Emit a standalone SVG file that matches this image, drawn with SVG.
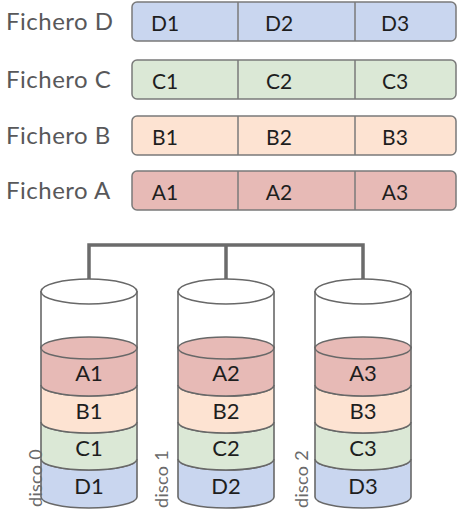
<svg xmlns="http://www.w3.org/2000/svg" width="464" height="520" viewBox="0 0 464 520">
<defs>
<style>
.lbl{font-family:Lato,"Open Sans",sans-serif;font-size:24px;fill:#58585a;letter-spacing:0.5px}
.cell{font-family:Lato,"Open Sans",sans-serif;font-size:21px;fill:#1e1e1e;text-anchor:middle}
.dtx{font-family:Lato,"Open Sans",sans-serif;font-size:22px;fill:#1e1e1e;text-anchor:middle}
.disk{font-family:Lato,"Open Sans",sans-serif;font-size:18px;fill:#6a6a6a;letter-spacing:0.3px}
.bar{stroke:#7a7a7a;stroke-width:1.5}
.div{stroke:#7a7a7a;stroke-width:1.5}
.A{fill:#e7bab6}.B{fill:#fde3d2}.C{fill:#dbe8d6}.D{fill:#c9d6ef}
.cyl{stroke:#686868;stroke-width:1.6}
.con{fill:none;stroke:#6b6b6b;stroke-width:3.5}
</style>
</defs>
<rect width="464" height="520" fill="#fff"/>

<g id="fichero-d">
<text class="lbl" x="6" y="30">Fichero D</text>
<rect class="bar D" x="132" y="2" width="324" height="39" rx="5"/>
<line class="div" x1="238" y1="2" x2="238" y2="41"/>
<line class="div" x1="355" y1="2" x2="355" y2="41"/>
<text class="cell" x="165" y="31">D1</text>
<text class="cell" x="279" y="31">D2</text>
<text class="cell" x="395" y="31">D3</text>
</g>
<g id="fichero-c">
<text class="lbl" x="6" y="88">Fichero C</text>
<rect class="bar C" x="132" y="60" width="324" height="39" rx="5"/>
<line class="div" x1="238" y1="60" x2="238" y2="99"/>
<line class="div" x1="355" y1="60" x2="355" y2="99"/>
<text class="cell" x="165" y="89">C1</text>
<text class="cell" x="279" y="89">C2</text>
<text class="cell" x="395" y="89">C3</text>
</g>
<g id="fichero-b">
<text class="lbl" x="6" y="144">Fichero B</text>
<rect class="bar B" x="132" y="116" width="324" height="39" rx="5"/>
<line class="div" x1="238" y1="116" x2="238" y2="155"/>
<line class="div" x1="355" y1="116" x2="355" y2="155"/>
<text class="cell" x="165" y="145">B1</text>
<text class="cell" x="279" y="145">B2</text>
<text class="cell" x="395" y="145">B3</text>
</g>
<g id="fichero-a">
<text class="lbl" x="6" y="199">Fichero A</text>
<rect class="bar A" x="132" y="171" width="324" height="39" rx="5"/>
<line class="div" x1="238" y1="171" x2="238" y2="210"/>
<line class="div" x1="355" y1="171" x2="355" y2="210"/>
<text class="cell" x="165" y="200">A1</text>
<text class="cell" x="279" y="200">A2</text>
<text class="cell" x="395" y="200">A3</text>
</g>

<g id="connectors">
<path class="con" d="M89,280 V245 H363 V280"/>
<path class="con" d="M226,245 V280"/>
</g>

<g id="disco-0">
<rect x="41" y="291" width="96" height="57" fill="#fff"/>
<line class="cyl" x1="41" y1="291" x2="41" y2="348"/>
<line class="cyl" x1="137" y1="291" x2="137" y2="348"/>
<ellipse class="cyl" cx="89" cy="291.5" rx="48" ry="12.5" fill="#fff"/>
<path class="cyl D" d="M41,459 V497 A48,11 0 0 0 137,497 V459 A48,11 0 0 1 41,459 Z"/>
<path class="cyl C" d="M41,422 V459 A48,11 0 0 0 137,459 V422 A48,11 0 0 1 41,422 Z"/>
<path class="cyl B" d="M41,385 V422 A48,11 0 0 0 137,422 V385 A48,11 0 0 1 41,385 Z"/>
<path class="cyl A" d="M41,348 V385 A48,11 0 0 0 137,385 V348 Z"/>
<ellipse class="cyl A" cx="89" cy="348" rx="48" ry="11"/>
<text class="dtx" x="89" y="381">A1</text>
<text class="dtx" x="89" y="419">B1</text>
<text class="dtx" x="89" y="456">C1</text>
<text class="dtx" x="89" y="494">D1</text>
<text class="disk" transform="translate(42,507) rotate(-90)">disco 0</text>
</g>

<g id="disco-1">
<rect x="178" y="291" width="96" height="57" fill="#fff"/>
<line class="cyl" x1="178" y1="291" x2="178" y2="348"/>
<line class="cyl" x1="274" y1="291" x2="274" y2="348"/>
<ellipse class="cyl" cx="226" cy="291.5" rx="48" ry="12.5" fill="#fff"/>
<path class="cyl D" d="M178,459 V497 A48,11 0 0 0 274,497 V459 A48,11 0 0 1 178,459 Z"/>
<path class="cyl C" d="M178,422 V459 A48,11 0 0 0 274,459 V422 A48,11 0 0 1 178,422 Z"/>
<path class="cyl B" d="M178,385 V422 A48,11 0 0 0 274,422 V385 A48,11 0 0 1 178,385 Z"/>
<path class="cyl A" d="M178,348 V385 A48,11 0 0 0 274,385 V348 Z"/>
<ellipse class="cyl A" cx="226" cy="348" rx="48" ry="11"/>
<text class="dtx" x="226" y="381">A2</text>
<text class="dtx" x="226" y="419">B2</text>
<text class="dtx" x="226" y="456">C2</text>
<text class="dtx" x="226" y="494">D2</text>
<text class="disk" transform="translate(168,508) rotate(-90)">disco 1</text>
</g>

<g id="disco-2">
<rect x="315" y="291" width="96" height="57" fill="#fff"/>
<line class="cyl" x1="315" y1="291" x2="315" y2="348"/>
<line class="cyl" x1="411" y1="291" x2="411" y2="348"/>
<ellipse class="cyl" cx="363" cy="291.5" rx="48" ry="12.5" fill="#fff"/>
<path class="cyl D" d="M315,459 V497 A48,11 0 0 0 411,497 V459 A48,11 0 0 1 315,459 Z"/>
<path class="cyl C" d="M315,422 V459 A48,11 0 0 0 411,459 V422 A48,11 0 0 1 315,422 Z"/>
<path class="cyl B" d="M315,385 V422 A48,11 0 0 0 411,422 V385 A48,11 0 0 1 315,385 Z"/>
<path class="cyl A" d="M315,348 V385 A48,11 0 0 0 411,385 V348 Z"/>
<ellipse class="cyl A" cx="363" cy="348" rx="48" ry="11"/>
<text class="dtx" x="363" y="381">A3</text>
<text class="dtx" x="363" y="419">B3</text>
<text class="dtx" x="363" y="456">C3</text>
<text class="dtx" x="363" y="494">D3</text>
<text class="disk" transform="translate(308,508) rotate(-90)">disco 2</text>
</g>
</svg>
